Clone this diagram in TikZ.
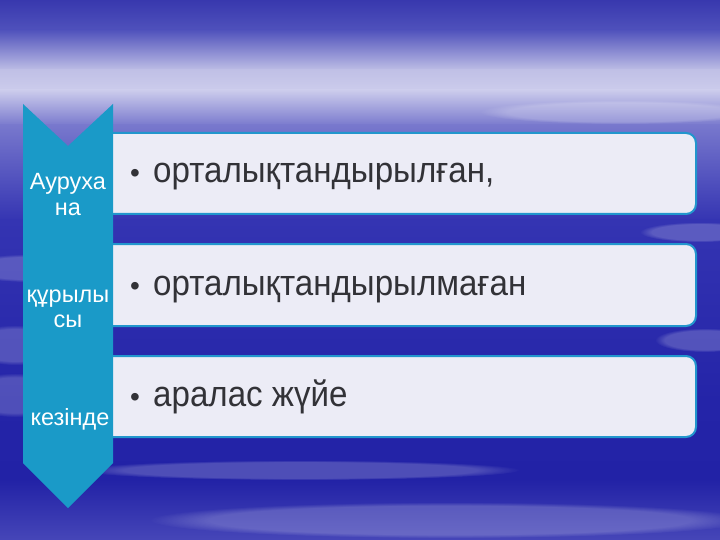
\documentclass[tikz,border=0pt]{standalone}
\usepackage{fontspec}
\setmainfont{Liberation Sans}
\usetikzlibrary{fadings}
\definecolor{chev}{RGB}{26,154,200}
\definecolor{boxfill}{RGB}{236,236,246}
\definecolor{boxline}{RGB}{34,150,205}
\definecolor{txt}{RGB}{50,50,55}
\definecolor{s0}{RGB}{56,56,174}
\definecolor{s1}{RGB}{80,82,188}
\definecolor{s2}{RGB}{192,192,230}
\definecolor{s3}{RGB}{204,204,236}
\definecolor{s4}{RGB}{120,120,205}
\definecolor{s5}{RGB}{52,52,178}
\definecolor{s6}{RGB}{36,36,168}
\definecolor{s7}{RGB}{34,34,166}
\definecolor{s8}{RGB}{70,70,184}
\newcommand{\itembullet}{\makebox[23pt][l]{\raisebox{0pt}{\fontsize{28}{28}\selectfont•}}}
\tikzset{
  itembox/.style={draw=boxline, line width=2pt, fill=boxfill, rounded corners=10pt},
  itemtext/.style={anchor=base west, inner sep=0pt, text=txt, font=\fontsize{36}{40}\selectfont},
  sidetext/.style={anchor=base, inner sep=0pt, text=white, align=center, font=\fontsize{23.5}{25}\selectfont},
  streak/.style={fill=white, fill opacity=0.2, path fading=circle with fuzzy edge 20 percent}
}
\begin{document}
\begin{tikzpicture}[x=1pt,y=-1pt]
\useasboundingbox (0,0) rectangle (720,540);
% background sky
\shade[top color=s0, bottom color=s1] (0,0) rectangle (720,31);
\shade[top color=s1, bottom color=s2] (0,30) rectangle (720,71);
\shade[top color=s2, bottom color=s3] (0,70) rectangle (720,91);
\shade[top color=s3, bottom color=s4] (0,90) rectangle (720,126);
\shade[top color=s4, bottom color=s5] (0,125) rectangle (720,221);
\shade[top color=s5, bottom color=s6] (0,220) rectangle (720,401);
\shade[top color=s6, bottom color=s7] (0,400) rectangle (720,481);
\shade[top color=s7, bottom color=s8] (0,480) rectangle (720,540);
% streaks
\fill[streak] (30,268) ellipse (70 and 14);
\fill[streak] (15,345) ellipse (50 and 20);
\fill[streak] (15,395) ellipse (55 and 22);
\fill[streak] (700,232) ellipse (60 and 10);
\fill[streak] (705,340) ellipse (50 and 12);
\fill[streak] (300,470) ellipse (220 and 10);
\fill[streak] (450,520) ellipse (300 and 18);
\fill[streak] (620,112) ellipse (140 and 12);
% item boxes
\node[itembox, minimum width=595pt, minimum height=81pt, anchor=north west] (b1) at (100,132) {};
\node[itembox, minimum width=595pt, minimum height=82pt, anchor=north west] (b2) at (100,243) {};
\node[itembox, minimum width=595pt, minimum height=81pt, anchor=north west] (b3) at (100,355) {};
% chevron
\fill[chev] (23,104) coordinate (c1) -- (68,146) -- (113,104) -- (113,463) -- (68,508) -- (23,463) -- cycle;
% item texts
\node[itemtext] (t1) at (130,183) {\itembullet\scalebox{0.92}[1]{орталықтандырылған,}};
\node[itemtext] (t2) at (130,295) {\itembullet\scalebox{0.92}[1]{орталықтандырылмаған}};
\node[itemtext] (t3) at (130,406) {\itembullet\scalebox{0.92}[1]{аралас жүйе}};
% side texts
\node[sidetext] (s1) at (68,190) {Ауруха};
\node[sidetext] (s2) at (68,215) {на};
\node[sidetext] (s3) at (68,302) {құрылы};
\node[sidetext] (s4) at (68,327) {сы};
\node[sidetext] (s5) at (70,425) {кезінде};
\end{tikzpicture}
\end{document}
